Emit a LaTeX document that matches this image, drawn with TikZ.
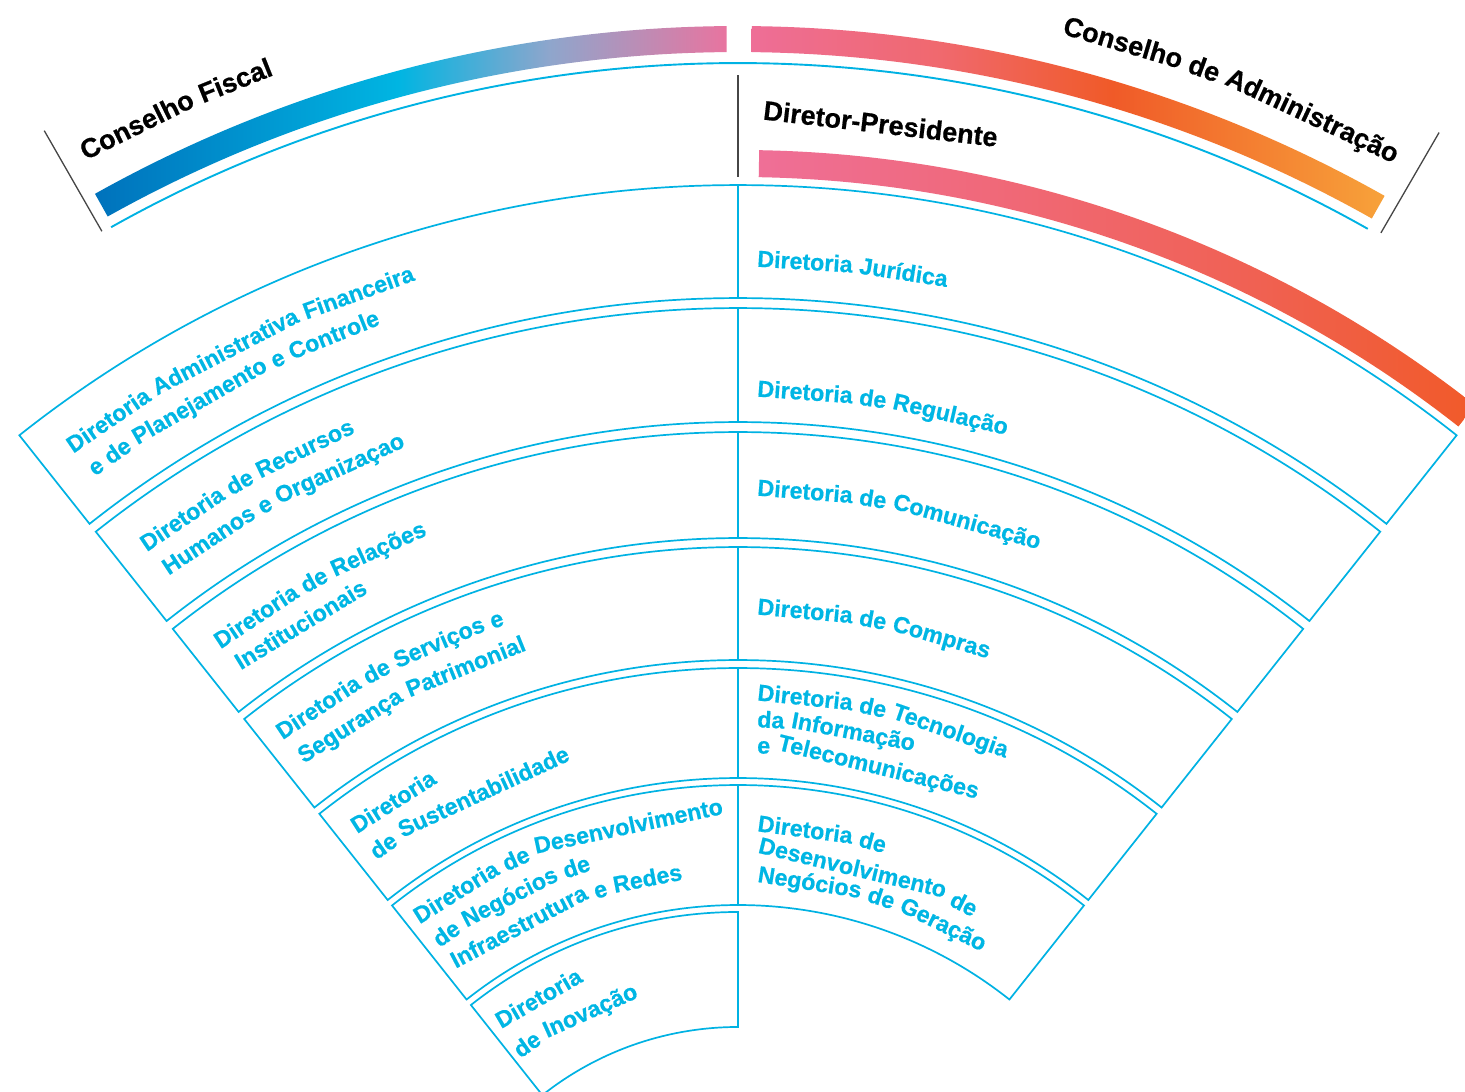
\documentclass[tikz,border=0pt]{standalone}
\usepackage{fontspec}
\setmainfont{Liberation Sans}
\newfontfamily\heavyfam[BoldFeatures={FakeBold=0.6}]{Liberation Sans}
\definecolor{cyanline}{RGB}{0,178,227}
\definecolor{cyantext}{RGB}{0,182,228}
\definecolor{tickgray}{RGB}{70,70,70}
\pgfdeclarehorizontalshading{fiscalshade}{100bp}{rgb(0bp)=(0,0.447,0.737); rgb(25bp)=(0,0.447,0.737); rgb(49bp)=(0,0.71,0.886); rgb(61bp)=(0.56,0.65,0.80); rgb(75bp)=(0.91,0.455,0.624); rgb(100bp)=(0.91,0.455,0.624)}
\pgfdeclarehorizontalshading{adminshade}{100bp}{rgb(0bp)=(0.933,0.431,0.592); rgb(25bp)=(0.933,0.431,0.592); rgb(40bp)=(0.94,0.41,0.43); rgb(53.5bp)=(0.941,0.353,0.157); rgb(75bp)=(0.969,0.635,0.227); rgb(100bp)=(0.969,0.635,0.227)}
\pgfdeclarehorizontalshading{presshade}{100bp}{rgb(0bp)=(0.937,0.435,0.592); rgb(25bp)=(0.937,0.435,0.592); rgb(42bp)=(0.94,0.41,0.47); rgb(60bp)=(0.94,0.38,0.32); rgb(75bp)=(0.945,0.353,0.16); rgb(100bp)=(0.945,0.353,0.16)}
\newcommand\labfont{\heavyfam\fontsize{23.2}{27}\selectfont\bfseries}
\newcommand\titfont{\heavyfam\fontsize{27}{31}\selectfont\bfseries}
\newdimen\mylabdim
\newsavebox\mylabbox
% words set one by one along an arc round the centre (0,0)
% #1 name, #2 font, #3 colour, #4 baseline radius, #5 start angle, #6 comma-separated words
\newcommand\arcwords[6]{%
  \xdef\mycur{#5}%
  \pgfinterruptpicture\global\setbox\mylabbox=\hbox{#2\ }\endpgfinterruptpicture
  \global\mylabdim=\wd\mylabbox
  \pgfmathsetmacro\myspw{\mylabdim}\global\let\myspw\myspw
  \foreach \w [count=\i] in {#6}{%
    \pgfinterruptpicture\global\setbox\mylabbox=\hbox{#2\w}\endpgfinterruptpicture
    \global\mylabdim=\wd\mylabbox
    \pgfmathsetmacro\mywd{\mylabdim}%
    \pgfmathsetmacro\mymid{\mycur-(\mywd/2)/#4*57.29578}%
    \pgfmathsetmacro\myrot{\mymid-90}%
    \pgfmathsetmacro\myrpos{#4-(\mywd/#4)*\mywd/16}%
    \node[anchor=base, rotate=\myrot, inner sep=0pt, text=#3, font=#2] (#1-\i) at (\mymid:\myrpos pt) {\w};
    \pgfmathsetmacro\mynext{\mycur-(\mywd+\myspw)/#4*57.29578}%
    \global\let\mycur\mynext
  }%
}
\newcommand\llabel[4]{\arcwords{#1}{\labfont}{cyantext}{#2}{#3}{#4}}
\newcommand\rlabel[3]{%
  \pgfmathsetmacro\mystart{90-asin(19/#2)}%
  \arcwords{#1}{\labfont}{cyantext}{#2}{\mystart}{#3}}
% ring: #1 left angle, #2 right angle, #3 outer r, #4 inner r
\newcommand\ringpath[4]{(#1:#3pt) arc[start angle=#1, end angle=#2, radius=#3pt] -- (#2:#4pt) arc[start angle=#2, end angle=#1, radius=#4pt] -- cycle}
\begin{document}
\begin{tikzpicture}[x=1pt,y=1pt,
  ringline/.style={draw=cyanline, line width=1.7pt, line join=miter},
  toparc/.style={draw=cyanline, line width=1.9pt},
  graytick/.style={draw=tickgray, line width=1.3pt}]
\useasboundingbox[fill=white] (-738pt,250pt) rectangle (727pt,1342pt);
\coordinate (C) at (0,0);
% coloured bands
\shade[shading=fiscalshade] \ringpath{119.25}{90.5}{1316}{1290};
\shade[shading=adminshade] \ringpath{89.4}{60.57}{1316}{1290};
\shade[shading=presshade] \ringpath{88.98}{51.8}{1192}{1165};
% thin cyan arc under the councils
\draw[toparc] (119.35:1279pt) arc[start angle=119.35, end angle=60.5, radius=1279pt];
% gray ticks
\draw[graytick] (119.8:1280pt) -- (119.8:1396pt);
\draw[graytick] (59.9:1282pt) -- (59.9:1398pt);
\draw[graytick] (90:1165pt) -- (90:1267pt);
% rings
\draw[ringline] \ringpath{128.4}{51.6}{1157}{1044};
\draw[ringline] \ringpath{128.4}{51.6}{1034}{920};
\draw[ringline] \ringpath{128.4}{51.6}{910}{804};
\draw[ringline] \ringpath{128.4}{51.6}{795}{682};
\draw[ringline] \ringpath{128.4}{51.6}{674}{564};
\draw[ringline] \ringpath{128.4}{51.6}{557}{437};
\draw[ringline] \ringpath{128.4}{90}{430}{315};
% dividers
\draw[ringline] (90:1044pt) -- (90:1157pt);
\draw[ringline] (90:920pt) -- (90:1034pt);
\draw[ringline] (90:804pt) -- (90:910pt);
\draw[ringline] (90:682pt) -- (90:795pt);
\draw[ringline] (90:564pt) -- (90:674pt);
\draw[ringline] (90:437pt) -- (90:557pt);
% titles
\arcwords{fiscal}{\titfont}{black}{1349}{118.9}{Conselho,Fiscal}
\arcwords{admin}{\titfont}{black}{1347}{76.1}{Conselho,de,Administração}
\arcwords{presid}{\titfont}{black}{1220}{88.85}{Diretor-Presidente}
% right column
\rlabel{jur}{1075}{Diretoria,Jurídica}
\rlabel{reg}{945}{Diretoria,de,Regulação}
\rlabel{com}{846}{Diretoria,de,Comunicação}
\rlabel{cpr}{727}{Diretoria,de,Compras}
\rlabel{tia}{641}{Diretoria,de,Tecnologia}
\rlabel{tib}{615}{da,Informação}
\rlabel{tic}{589}{e,Telecomunicações}
\rlabel{gea}{510}{Diretoria,de}
\rlabel{geb}{485}{Desenvolvimento,de}
\rlabel{gec}{459}{Negócios,de,Geração}
% left column
\llabel{adma}{1109}{126.8}{Diretoria,Administrativa,Financeira}
\llabel{admb}{1078}{126.6}{e,de,Planejamento,e,Controle}
\llabel{rha}{986}{126.8}{Diretoria,de,Recursos}
\llabel{rhb}{954}{126.6}{Humanos,e,Organizaçao}
\llabel{rela}{864}{126.75}{Diretoria,de,Relações}
\llabel{relb}{834}{126.5}{Institucionais}
\llabel{serva}{754}{127.1}{Diretoria,de,Serviços,e}
\llabel{servb}{722}{126.9}{Segurança,Patrimonial}
\llabel{susta}{634}{126.85}{Diretoria}
\llabel{sustb}{602}{126.85}{de,Sustentabilidade}
\llabel{infa}{524}{127.3}{Diretoria,de,Desenvolvimento}
\llabel{infb}{494}{127.1}{de,Negócios,de}
\llabel{infc}{465}{127.1}{Infraestrutura,e,Redes}
\llabel{inova}{391}{127.1}{Diretoria}
\llabel{inovb}{357}{127.5}{de,Inovação}
\end{tikzpicture}
\end{document}
